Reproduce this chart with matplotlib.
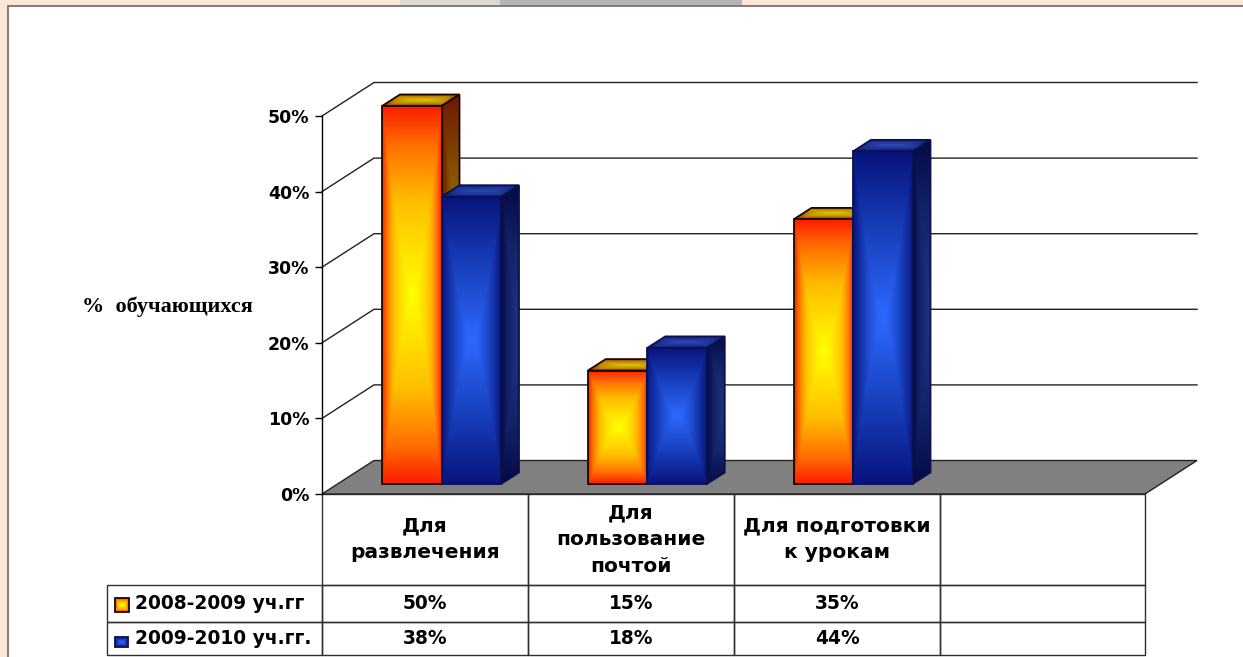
import numpy as np
import matplotlib
matplotlib.use("Agg")
import matplotlib.pyplot as plt
from matplotlib.colors import LinearSegmentedColormap
from matplotlib.patches import Polygon, Rectangle

# data
categories = ["Для\nразвлечения", "Для\nпользование\nпочтой", "Для подготовки\nк урокам", ""]
series_names = ["2008-2009 уч.гг", "2009-2010 уч.гг."]
values_2008 = [50, 15, 35]
values_2009 = [38, 18, 44]
y_ticks = [0, 10, 20, 30, 40, 50]

FONT = "DejaVu Sans"
W, H = 1243, 657

# wall depth and bar offsets, in data units
px_x = 823 / 4
px_y = 378 / 50
wall_dx = 52 / px_x
wall_dy = 33.5 / px_y
bar_dx = 18 / px_x
bar_dy = 11.5 / px_y
base_y = 10 / px_y
bar_w = 59.5 / px_x
bar_left = 60 / px_x


def ramp(name, colors):
    stops = [(p, tuple(c / 255 for c in rgb)) for p, rgb in colors]
    return LinearSegmentedColormap.from_list(name, stops)


warm_front = ramp("warm_front", [(0, (255, 255, 0)), (0.5, (255, 190, 0)), (0.8, (255, 110, 0)), (1, (250, 30, 0))])
warm_side = ramp("warm_side", [(0, (150, 135, 0)), (0.5, (140, 95, 0)), (1, (110, 25, 0))])
warm_top = ramp("warm_top", [(0, (215, 200, 0)), (0.6, (190, 130, 0)), (1, (130, 40, 0))])
cold_front = ramp("cold_front", [(0, (45, 105, 255)), (0.5, (25, 65, 190)), (1, (8, 20, 125))])
cold_side = ramp("cold_side", [(0, (30, 55, 130)), (0.6, (18, 35, 105)), (1, (5, 10, 70))])
cold_top = ramp("cold_top", [(0, (45, 75, 180)), (1, (15, 30, 120))])


def face(ax, verts, cmap, edge, zorder, clip_box, kind="front"):
    verts = np.array(verts)
    x0, y0 = verts.min(axis=0)
    x1, y1 = verts.max(axis=0)
    u, v = np.meshgrid(np.linspace(-1, 1, 120), np.linspace(-1, 1, 240))
    if kind == "side":
        # darkest along the edge shared with the front face
        shade = np.maximum(abs(v), (1 - u) / 2)
    else:
        shade = np.maximum(abs(u) ** 1.4, abs(v))
    im = ax.imshow(shade, cmap=cmap, vmin=0, vmax=1, extent=(x0, x1, y0, y1),
                   origin="lower", aspect="auto", interpolation="bilinear", zorder=zorder)
    poly = Polygon(verts, closed=True, fill=False, edgecolor=edge, linewidth=1.3, zorder=zorder + 0.1, clip_on=False)
    ax.add_patch(poly)
    im.set_clip_path(poly)
    im.set_clip_box(clip_box)


def bar3d(ax, x, value, cmaps, edge, zorder, clip_box):
    bottom = base_y
    top = base_y + value
    right = x + bar_w
    side = [(right, bottom), (right + bar_dx, bottom + bar_dy), (right + bar_dx, top + bar_dy), (right, top)]
    lid = [(x, top), (right, top), (right + bar_dx, top + bar_dy), (x + bar_dx, top + bar_dy)]
    front = [(x, bottom), (right, bottom), (right, top), (x, top)]
    face(ax, side, cmaps[1], edge, zorder, clip_box, kind="side")
    face(ax, lid, cmaps[2], edge, zorder, clip_box)
    face(ax, front, cmaps[0], edge, zorder + 0.2, clip_box)


fig = plt.figure(figsize=(W / 100, H / 100), dpi=100, facecolor="#fde6d6")

# slide background
fig.add_artist(Rectangle((400 / W, 1 - 5 / H), 100 / W, 5 / H, transform=fig.transFigure, color="#dcd8d4", lw=0, zorder=-3))
fig.add_artist(Rectangle((500 / W, 1 - 5 / H), 242 / W, 5 / H, transform=fig.transFigure, color="#b6b4b4", lw=0, zorder=-3))
fig.add_artist(Rectangle((8 / W, -0.01), 1.0, 1 - 6 / H + 0.01, transform=fig.transFigure,
                         facecolor="white", edgecolor="#6e6660", linewidth=1.2, zorder=-2))

ax = fig.add_axes([322 / W, (H - 494) / H, 823 / W, 378 / H])
ax.patch.set_alpha(0)
for name in ["top", "right", "bottom"]:
    ax.spines[name].set_visible(False)
ax.spines["left"].set_linewidth(1.0)

# back wall lines and floor
for v in y_ticks[1:]:
    ax.plot([0, wall_dx, 4 + wall_dx], [v, v + wall_dy, v + wall_dy], color="#222222", lw=1.0, clip_on=False, zorder=1)
floor = Polygon([(0, 0), (wall_dx, wall_dy), (4 + wall_dx, wall_dy), (4, 0)], closed=True,
                facecolor="#808080", edgecolor="#222222", linewidth=1.0, clip_on=False, zorder=2)
ax.add_patch(floor)

for i, (a, b) in enumerate(zip(values_2008, values_2009)):
    x = i + bar_left
    bar3d(ax, x, a, (warm_front, warm_side, warm_top), "#1a0800", 3 + i, fig.bbox)
    bar3d(ax, x + bar_w, b, (cold_front, cold_side, cold_top), "#0a1050", 3.5 + i, fig.bbox)

ax.set_xlim(0, 4)
ax.set_ylim(0, 50)
ax.set_xticks([])
ax.set_yticks(y_ticks)
ax.set_yticklabels([f"{v}%" for v in y_ticks], fontsize=12.5, fontweight="bold", family=FONT)
ax.tick_params(axis="y", length=5, width=1, pad=4)

fig.text(167 / W, 1 - 307 / H, "%  обучающихся", family="Liberation Serif", fontweight="bold",
         fontsize=16, ha="center", va="center")

# data table under the plot
rows = [
    [""] + categories,
    [series_names[0]] + [f"{v}%" for v in values_2008] + [""],
    [series_names[1]] + [f"{v}%" for v in values_2009] + [""],
]
tbl = ax.table(cellText=rows, colWidths=[215, 206, 206, 206, 205], cellLoc="center",
               bbox=[-215 / 823, -161 / 378, 1038 / 823, 161 / 378])
tbl.auto_set_font_size(False)
row_heights = [91, 37, 33]
for (r, c), cell in tbl.get_celld().items():
    cell.set_height(row_heights[r])
    cell.set_linewidth(1.0)
    cell.set_edgecolor("#303030")
    cell.set_facecolor("none")
    cell.get_text().set_fontsize(14.5 if r == 0 else 13.4)
    cell.get_text().set_fontweight("bold")
    cell.get_text().set_family(FONT)
    cell.get_text().set_linespacing(1.5)
    if c == 0:
        cell.PAD = 28 / 215
        cell.set_text_props(ha="left")
tbl[0, 0].visible_edges = ""

# legend keys inside the row labels
key_ax = fig.add_axes([0, 0, 1, 1], facecolor="none")
key_ax.set_axis_off()
for (x0, x1, y0, y1), cmap, edge in [((115, 129, 598, 612), warm_front, "#1a0800"),
                                     ((115, 128, 637, 647), cold_front, "#0a1050")]:
    face(key_ax, [(x0, y0), (x1, y0), (x1, y1), (x0, y1)], cmap, edge, 3, fig.bbox)
key_ax.set_xlim(0, W)
key_ax.set_ylim(H, 0)

fig.savefig("out.png", dpi=100, facecolor=fig.get_facecolor())
